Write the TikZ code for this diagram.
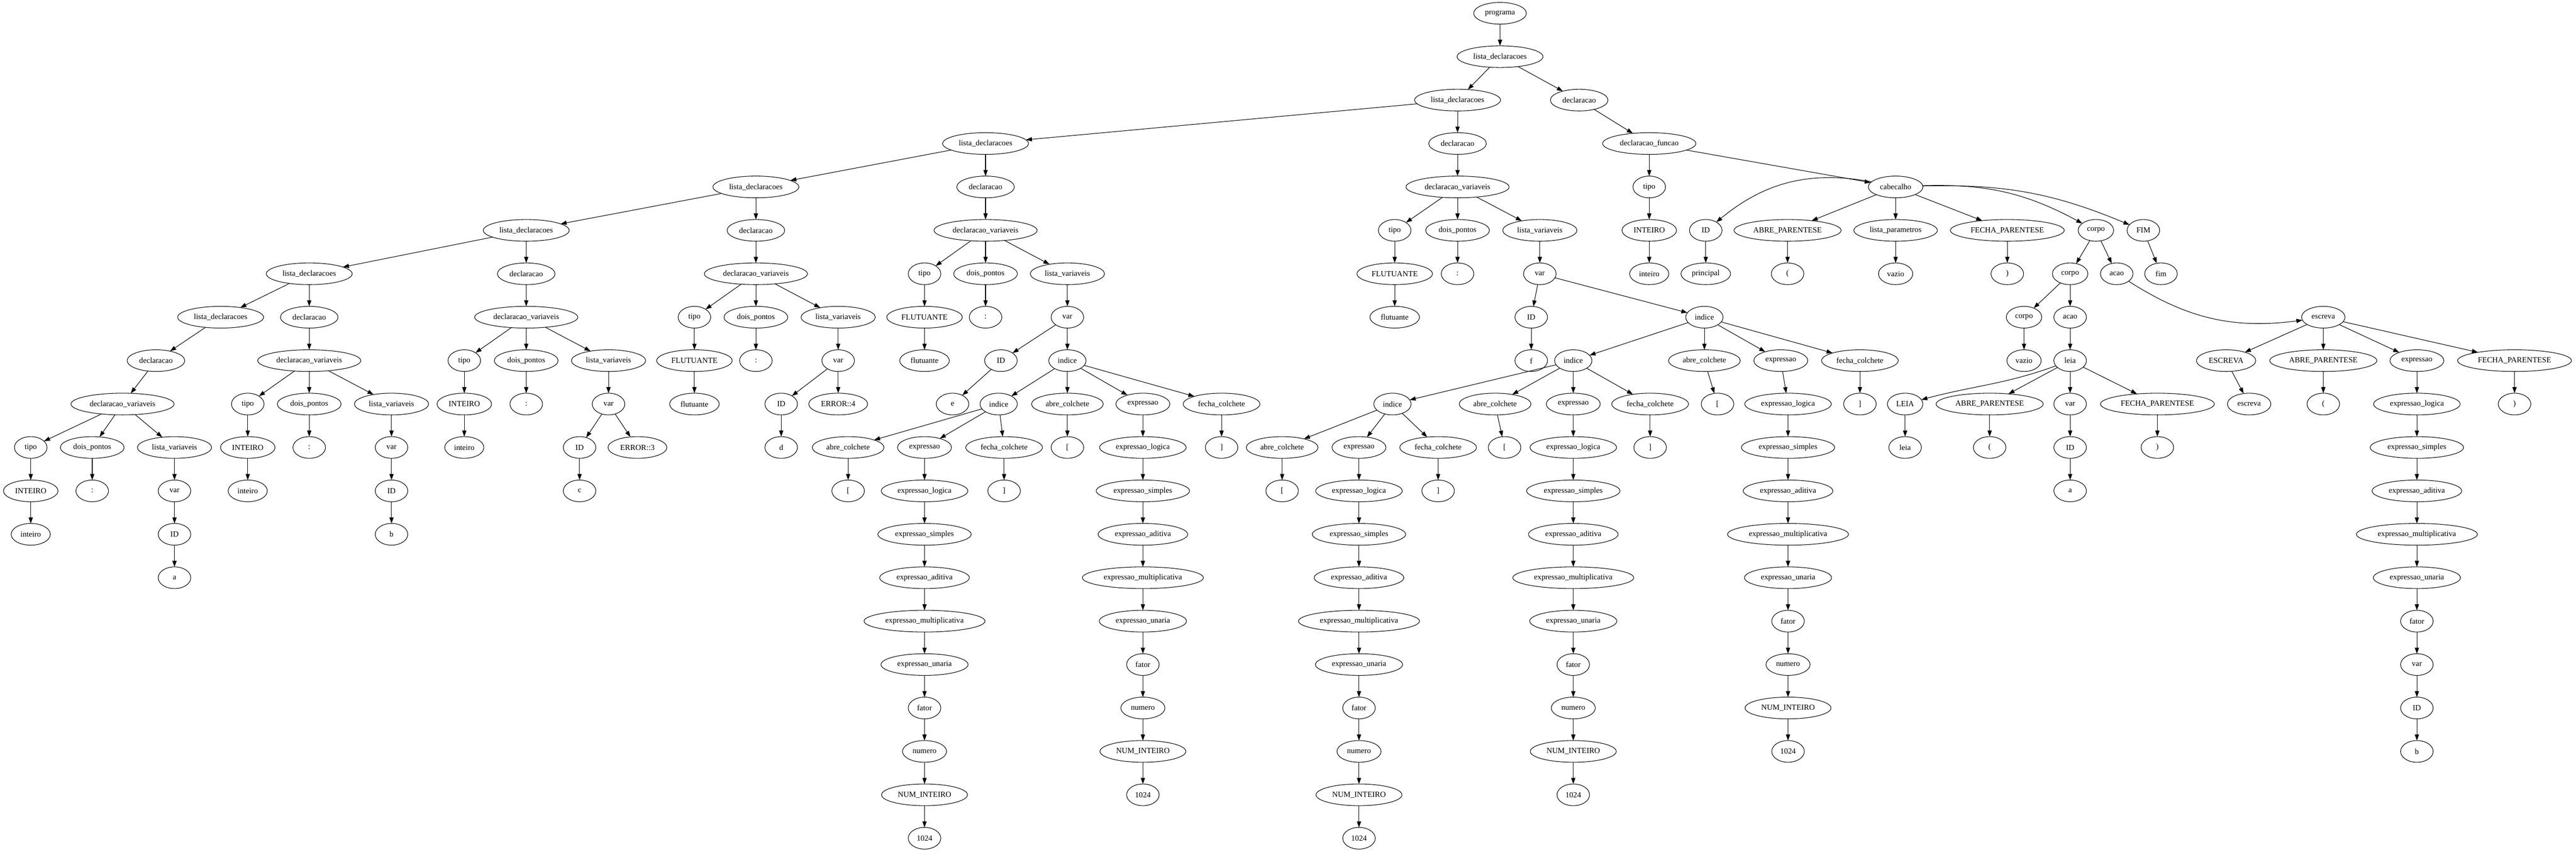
\documentclass[tikz,border=0pt]{standalone}
\usepackage{fontspec}
\setmainfont{Liberation Serif}
\usetikzlibrary{arrows.meta,positioning,shapes.geometric}

\begin{document}
\begin{tikzpicture}[>={Triangle[length=10pt,width=7pt]},line width=0.9pt,
  x=0.75pt,y=-72pt,node distance=36pt,
  tn/.style={draw,ellipse,minimum width=54pt,minimum height=36pt,
    inner xsep=6pt,inner ysep=2pt,outer sep=0pt,font=\fontsize{13}{15}\selectfont}]

  \useasboundingbox (0,-0.3056) rectangle (5698,19.309);

  % lista de declaracoes
  \node[tn] (prog) at (3318,0) {programa};
  \node[tn] (ld1) [below=of prog] {lista\_declaracoes};
  \node[tn] (ld2) at (3224,2) {lista\_declaracoes};
  \node[tn] (dc1) at (3493,2) {declaracao};
  \node[tn] (ld3) at (2180,3) {lista\_declaracoes};
  \node[tn] (dc2) [below=of ld2] {declaracao};
  \node[tn] (dfun) at (3648,3) {declaracao\_funcao};
  \node[tn] (ld4) at (1672,4) {lista\_declaracoes};
  \node[tn] (dc3) [below=of ld3] {declaracao};
  \node[tn] (ld5) at (1164,5) {lista\_declaracoes};
  \node[tn] (dc4) [below=of ld4] {declaracao};
  \node[tn] (ld6) at (684,6) {lista\_declaracoes};
  \node[tn] (dc5) [below=of ld5] {declaracao};
  \node[tn] (ld7) at (488,7) {lista\_declaracoes};
  \node[tn] (dc6) [below=of ld6] {declaracao};
  \node[tn] (dc7) at (345,8) {declaracao};

  \path[->] (prog) edge (ld1)
            (ld1) edge (ld2) edge (dc1)
            (ld2) edge (ld3) edge (dc2)
            (ld3) edge (ld4) edge (dc3)
            (ld4) edge (ld5) edge (dc4)
            (ld5) edge (ld6) edge (dc5)
            (ld6) edge (ld7) edge (dc6)
            (ld7) edge (dc7);

  % inteiro: a
  \node[tn] (dv1) at (271,9) {declaracao\_variaveis};
  \node[tn] (tp1) at (68,10) {tipo};
  \node[tn] (dp1) at (204,10) {dois\_pontos};
  \node[tn] (lv1) at (386,10) {lista\_variaveis};
  \node[tn] (INT1) [below=of tp1] {INTEIRO};
  \node[tn] (int1l) [below=of INT1] {inteiro};
  \node[tn] (col1) [below=of dp1] {:};
  \node[tn] (var1) [below=of lv1] {var};
  \node[tn] (id1) [below=of var1] {ID};
  \node[tn] (a1) [below=of id1] {a};

  \path[->] (dc7) edge (dv1)
            (dv1) edge (tp1) edge (dp1) edge (lv1)
            (tp1) edge (INT1) (INT1) edge (int1l)
            (dp1) edge (col1)
            (lv1) edge (var1) (var1) edge (id1) (id1) edge (a1);

  % inteiro: b
  \node[tn] (dv2) [below=of dc6] {declaracao\_variaveis};
  \node[tn] (tp2) at (548,9) {tipo};
  \node[tn] (dp2) [below=of dv2] {dois\_pontos};
  \node[tn] (lv2) at (866,9) {lista\_variaveis};
  \node[tn] (INT2) [below=of tp2] {INTEIRO};
  \node[tn] (int2l) [below=of INT2] {inteiro};
  \node[tn] (col2) [below=of dp2] {:};
  \node[tn] (var2) [below=of lv2] {var};
  \node[tn] (id2) [below=of var2] {ID};
  \node[tn] (b2) [below=of id2] {b};

  \path[->] (dc6) edge (dv2)
            (dv2) edge (tp2) edge (dp2) edge (lv2)
            (tp2) edge (INT2) (INT2) edge (int2l)
            (dp2) edge (col2)
            (lv2) edge (var2) (var2) edge (id2) (id2) edge (b2);

  % inteiro: c
  \node[tn] (dv3) [below=of dc5] {declaracao\_variaveis};
  \node[tn] (tp3) at (1027,8) {tipo};
  \node[tn] (dp3) [below=of dv3] {dois\_pontos};
  \node[tn] (lv3) at (1346,8) {lista\_variaveis};
  \node[tn] (INT3) [below=of tp3] {INTEIRO};
  \node[tn] (int3l) [below=of INT3] {inteiro};
  \node[tn] (col3) [below=of dp3] {:};
  \node[tn] (var3) [below=of lv3] {var};
  \node[tn] (id3) at (1282,10) {ID};
  \node[tn] (err3) at (1410,10) {ERROR::3};
  \node[tn] (c3) [below=of id3] {c};

  \path[->] (dc5) edge (dv3)
            (dv3) edge (tp3) edge (dp3) edge (lv3)
            (tp3) edge (INT3) (INT3) edge (int3l)
            (dp3) edge (col3)
            (lv3) edge (var3)
            (var3) edge (id3) edge (err3)
            (id3) edge (c3);

  % flutuante: d
  \node[tn] (dv4) [below=of dc4] {declaracao\_variaveis};
  \node[tn] (tp4) at (1536,7) {tipo};
  \node[tn] (dp4) [below=of dv4] {dois\_pontos};
  \node[tn] (lv4) at (1854,7) {lista\_variaveis};
  \node[tn] (FLUT4) [below=of tp4] {FLUTUANTE};
  \node[tn] (fll4) [below=of FLUT4] {flutuante};
  \node[tn] (col4) [below=of dp4] {:};
  \node[tn] (var4) [below=of lv4] {var};
  \node[tn] (id4) at (1728,9) {ID};
  \node[tn] (err4) [below=of var4] {ERROR::4};
  \node[tn] (d4) [below=of id4] {d};

  \path[->] (dc4) edge (dv4)
            (dv4) edge (tp4) edge (dp4) edge (lv4)
            (tp4) edge (FLUT4) (FLUT4) edge (fll4)
            (dp4) edge (col4)
            (lv4) edge (var4)
            (var4) edge (id4) edge (err4)
            (id4) edge (d4);

  % flutuante: e[1024][1024]
  \node[tn] (dv5) [below=of dc3] {declaracao\_variaveis};
  \node[tn] (tp5) at (2045,6) {tipo};
  \node[tn] (dp5) [below=of dv5] {dois\_pontos};
  \node[tn] (lv5) at (2361,6) {lista\_variaveis};
  \node[tn] (FLUT5) [below=of tp5] {FLUTUANTE};
  \node[tn] (fll5) [below=of FLUT5] {flutuante};
  \node[tn] (col5) [below=of dp5] {:};
  \node[tn] (var5) [below=of lv5] {var};
  \node[tn] (id5) at (2214,8) {ID};
  \node[tn] (ix5a) [below=of var5] {indice};
  \node[tn] (e5) at (2107,9) {e};
  \node[tn] (ix5b) at (2209,9) {indice};
  \node[tn] (ab5a) [below=of ix5a] {abre\_colchete};
  \node[tn] (ex5a) at (2528,9) {expressao};
  \node[tn] (fc5a) at (2702,9) {fecha\_colchete};
  \node[tn] (ab5b) at (1876,10) {abre\_colchete};
  \node[tn] (ex5b) at (2045,10) {expressao};
  \node[tn] (fc5b) at (2221,10) {fecha\_colchete};
  \node[tn] (lb5a) [below=of ab5a] {[};
  \node[tn] (rb5a) [below=of fc5a] {]};
  \node[tn] (lb5b) [below=of ab5b] {[};
  \node[tn] (rb5b) [below=of fc5b] {]};
  \node[tn] (el5a) [below=of ex5a] {expressao\_logica};
  \node[tn] (es5a) [below=of el5a] {expressao\_simples};
  \node[tn] (ea5a) [below=of es5a] {expressao\_aditiva};
  \node[tn] (em5a) [below=of ea5a] {expressao\_multiplicativa};
  \node[tn] (eu5a) [below=of em5a] {expressao\_unaria};
  \node[tn] (fa5a) [below=of eu5a] {fator};
  \node[tn] (nu5a) [below=of fa5a] {numero};
  \node[tn] (ni5a) [below=of nu5a] {NUM\_INTEIRO};
  \node[tn] (k5a) [below=of ni5a] {1024};
  \node[tn] (el5b) [below=of ex5b] {expressao\_logica};
  \node[tn] (es5b) [below=of el5b] {expressao\_simples};
  \node[tn] (ea5b) [below=of es5b] {expressao\_aditiva};
  \node[tn] (em5b) [below=of ea5b] {expressao\_multiplicativa};
  \node[tn] (eu5b) [below=of em5b] {expressao\_unaria};
  \node[tn] (fa5b) [below=of eu5b] {fator};
  \node[tn] (nu5b) [below=of fa5b] {numero};
  \node[tn] (ni5b) [below=of nu5b] {NUM\_INTEIRO};
  \node[tn] (k5b) [below=of ni5b] {1024};

  \path[->] (dc3) edge (dv5)
            (dv5) edge (tp5) edge (dp5) edge (lv5)
            (tp5) edge (FLUT5) (FLUT5) edge (fll5)
            (dp5) edge (col5)
            (lv5) edge (var5)
            (var5) edge (id5) edge (ix5a)
            (id5) edge (e5)
            (ix5a) edge (ix5b) edge (ab5a) edge (ex5a) edge (fc5a)
            (ix5b) edge (ab5b) edge (ex5b) edge (fc5b)
            (ab5a) edge (lb5a) (fc5a) edge (rb5a)
            (ab5b) edge (lb5b) (fc5b) edge (rb5b)
            (ex5a) edge (el5a) (el5a) edge (es5a) (es5a) edge (ea5a)
            (ea5a) edge (em5a) (em5a) edge (eu5a) (eu5a) edge (fa5a)
            (fa5a) edge (nu5a) (nu5a) edge (ni5a) (ni5a) edge (k5a)
            (ex5b) edge (el5b) (el5b) edge (es5b) (es5b) edge (ea5b)
            (ea5b) edge (em5b) (em5b) edge (eu5b) (eu5b) edge (fa5b)
            (fa5b) edge (nu5b) (nu5b) edge (ni5b) (ni5b) edge (k5b);

  % flutuante: f[1024][1024][1024]
  \node[tn] (dv6) [below=of dc2] {declaracao\_variaveis};
  \node[tn] (tp6) at (3085,5) {tipo};
  \node[tn] (dp6) [below=of dv6] {dois\_pontos};
  \node[tn] (lv6) at (3406,5) {lista\_variaveis};
  \node[tn] (fl6) [below=of tp6] {FLUTUANTE};
  \node[tn] (fll6) [below=of fl6] {flutuante};
  \node[tn] (col6) [below=of dp6] {:};
  \node[tn] (var6) [below=of lv6] {var};
  \node[tn] (id6) at (3387,7) {ID};
  \node[tn] (ix6a) at (3770,7) {indice};
  \node[tn] (f6) [below=of id6] {f};
  \node[tn] (ix6b) at (3480,8) {indice};
  \node[tn] (ab6a) [below=of ix6a] {abre\_colchete};
  \node[tn] (ex6a) at (3939,8) {expressao};
  \node[tn] (fc6a) at (4114,8) {fecha\_colchete};
  \node[tn] (ix6c) at (3080,9) {indice};
  \node[tn] (ab6b) at (3307,9) {abre\_colchete};
  \node[tn] (ex6b) [below=of ix6b] {expressao};
  \node[tn] (fc6b) at (3650,9) {fecha\_colchete};
  \node[tn] (lb6a) at (3799,9) {[};
  \node[tn] (rb6a) [below=of fc6a] {]};
  \node[tn] (ab6c) at (2836,10) {abre\_colchete};
  \node[tn] (ex6c) at (3006,10) {expressao};
  \node[tn] (fc6c) at (3181,10) {fecha\_colchete};
  \node[tn] (lb6b) at (3328,10) {[};
  \node[tn] (rb6b) [below=of fc6b] {]};
  \node[tn] (lb6c) [below=of ab6c] {[};
  \node[tn] (rb6c) [below=of fc6c] {]};
  \node[tn] (el6a) at (3955,9) {expressao\_logica};
  \node[tn] (es6a) [below=of el6a] {expressao\_simples};
  \node[tn] (ea6a) [below=of es6a] {expressao\_aditiva};
  \node[tn] (em6a) [below=of ea6a] {expressao\_multiplicativa};
  \node[tn] (eu6a) [below=of em6a] {expressao\_unaria};
  \node[tn] (fa6a) [below=of eu6a] {fator};
  \node[tn] (nu6a) [below=of fa6a] {numero};
  \node[tn] (ni6a) [below=of nu6a] {NUM\_INTEIRO};
  \node[tn] (k6a) [below=of ni6a] {1024};
  \node[tn] (el6b) [below=of ex6b] {expressao\_logica};
  \node[tn] (es6b) [below=of el6b] {expressao\_simples};
  \node[tn] (ea6b) [below=of es6b] {expressao\_aditiva};
  \node[tn] (em6b) [below=of ea6b] {expressao\_multiplicativa};
  \node[tn] (eu6b) [below=of em6b] {expressao\_unaria};
  \node[tn] (fa6b) [below=of eu6b] {fator};
  \node[tn] (nu6b) [below=of fa6b] {numero};
  \node[tn] (ni6b) [below=of nu6b] {NUM\_INTEIRO};
  \node[tn] (k6b) [below=of ni6b] {1024};
  \node[tn] (el6c) [below=of ex6c] {expressao\_logica};
  \node[tn] (es6c) [below=of el6c] {expressao\_simples};
  \node[tn] (ea6c) [below=of es6c] {expressao\_aditiva};
  \node[tn] (em6c) [below=of ea6c] {expressao\_multiplicativa};
  \node[tn] (eu6c) [below=of em6c] {expressao\_unaria};
  \node[tn] (fa6c) [below=of eu6c] {fator};
  \node[tn] (nu6c) [below=of fa6c] {numero};
  \node[tn] (ni6c) [below=of nu6c] {NUM\_INTEIRO};
  \node[tn] (k6c) [below=of ni6c] {1024};

  \path[->] (dc2) edge (dv6)
            (dv6) edge (tp6) edge (dp6) edge (lv6)
            (tp6) edge (fl6) (fl6) edge (fll6)
            (dp6) edge (col6)
            (lv6) edge (var6)
            (var6) edge (id6) edge (ix6a)
            (id6) edge (f6)
            (ix6a) edge (ix6b) edge (ab6a) edge (ex6a) edge (fc6a)
            (ix6b) edge (ix6c) edge (ab6b) edge (ex6b) edge (fc6b)
            (ix6c) edge (ab6c) edge (ex6c) edge (fc6c)
            (ab6a) edge (lb6a) (fc6a) edge (rb6a)
            (ab6b) edge (lb6b) (fc6b) edge (rb6b)
            (ab6c) edge (lb6c) (fc6c) edge (rb6c)
            (ex6a) edge (el6a) (el6a) edge (es6a) (es6a) edge (ea6a)
            (ea6a) edge (em6a) (em6a) edge (eu6a) (eu6a) edge (fa6a)
            (fa6a) edge (nu6a) (nu6a) edge (ni6a) (ni6a) edge (k6a)
            (ex6b) edge (el6b) (el6b) edge (es6b) (es6b) edge (ea6b)
            (ea6b) edge (em6b) (em6b) edge (eu6b) (eu6b) edge (fa6b)
            (fa6b) edge (nu6b) (nu6b) edge (ni6b) (ni6b) edge (k6b)
            (ex6c) edge (el6c) (el6c) edge (es6c) (es6c) edge (ea6c)
            (ea6c) edge (em6c) (em6c) edge (eu6c) (eu6c) edge (fa6c)
            (fa6c) edge (nu6c) (nu6c) edge (ni6c) (ni6c) edge (k6c);

  % funcao principal
  \node[tn] (ftipo) [below=of dfun] {tipo};
  \node[tn] (cab) at (4193,4) {cabecalho};
  \node[tn] (fint) [below=of ftipo] {INTEIRO};
  \node[tn] (finl) [below=of fint] {inteiro};
  \node[tn] (fid) at (3773,5) {ID};
  \node[tn] (fap) at (3954,5) {ABRE\_PARENTESE};
  \node[tn] (lpar) [below=of cab] {lista\_parametros};
  \node[tn] (ffp) at (4440,5) {FECHA\_PARENTESE};
  \node[tn] (corpo1) at (4636,5) {corpo};
  \node[tn] (fimT) at (4741,5) {FIM};
  \node[tn] (fprin) [below=of fid] {principal};
  \node[tn] (fapl) [below=of fap] {(};
  \node[tn] (vazio1) [below=of lpar] {vazio};
  \node[tn] (ffpl) [below=of ffp] {)};
  \node[tn] (corpo2) at (4579,6) {corpo};
  \node[tn] (acao1) at (4682,6) {acao};
  \node[tn] (fiml) at (4780,6) {fim};
  \node[tn] (corpo3) at (4477,7) {corpo};
  \node[tn] (acao2) [below=of corpo2] {acao};
  \node[tn] (vazio2) [below=of corpo3] {vazio};
  \node[tn] (leia) [below=of acao2] {leia};
  \node[tn] (LEIA) at (4214,9) {LEIA};
  \node[tn] (lap) at (4401,9) {ABRE\_PARENTESE};
  \node[tn] (lvar) [below=of leia] {var};
  \node[tn] (lfp) at (4772,9) {FECHA\_PARENTESE};
  \node[tn] (leial) [below=of LEIA] {leia};
  \node[tn] (lapl) [below=of lap] {(};
  \node[tn] (lid) [below=of lvar] {ID};
  \node[tn] (lfpl) [below=of lfp] {)};
  \node[tn] (la) [below=of lid] {a};
  \node[tn] (esc) at (5139,7) {escreva};
  \node[tn] (ESC) at (4924,8) {ESCREVA};
  \node[tn] (eap) [below=of esc] {ABRE\_PARENTESE};
  \node[tn] (eex) at (5346,8) {expressao};
  \node[tn] (efp) at (5562,8) {FECHA\_PARENTESE};
  \node[tn] (escl) at (4975,9) {escreva};
  \node[tn] (eapl) [below=of eap] {(};
  \node[tn] (efpl) [below=of efp] {)};
  \node[tn] (eel) [below=of eex] {expressao\_logica};
  \node[tn] (ees) [below=of eel] {expressao\_simples};
  \node[tn] (eea) [below=of ees] {expressao\_aditiva};
  \node[tn] (eem) [below=of eea] {expressao\_multiplicativa};
  \node[tn] (eeu) [below=of eem] {expressao\_unaria};
  \node[tn] (efa) [below=of eeu] {fator};
  \node[tn] (evar) [below=of efa] {var};
  \node[tn] (eid) [below=of evar] {ID};
  \node[tn] (eb) [below=of eid] {b};

  \path[->] (dc1) edge (dfun)
            (dfun) edge (ftipo) edge (cab)
            (ftipo) edge (fint) (fint) edge (finl)
            (cab) edge [bend right=25] (fid) edge (fap) edge (lpar)
                  edge (ffp) edge [bend left=15] (corpo1) edge [bend left=12] (fimT)
            (fid) edge (fprin) (fap) edge (fapl)
            (lpar) edge (vazio1) (ffp) edge (ffpl)
            (fimT) edge (fiml)
            (corpo1) edge (corpo2) edge (acao1)
            (corpo2) edge (corpo3) edge (acao2)
            (corpo3) edge (vazio2)
            (acao2) edge (leia)
            (leia) edge [out=200,in=15] (LEIA) edge (lap) edge (lvar) edge (lfp)
            (LEIA) edge (leial) (lap) edge (lapl)
            (lvar) edge (lid) (lid) edge (la)
            (lfp) edge (lfpl)
            (acao1) edge [bend right=20] (esc)
            (esc) edge (ESC) edge (eap) edge (eex) edge (efp)
            (ESC) edge (escl) (eap) edge (eapl) (efp) edge (efpl)
            (eex) edge (eel) (eel) edge (ees) (ees) edge (eea)
            (eea) edge (eem) (eem) edge (eeu) (eeu) edge (efa)
            (efa) edge (evar) (evar) edge (eid) (eid) edge (eb);

\end{tikzpicture}
\end{document}
